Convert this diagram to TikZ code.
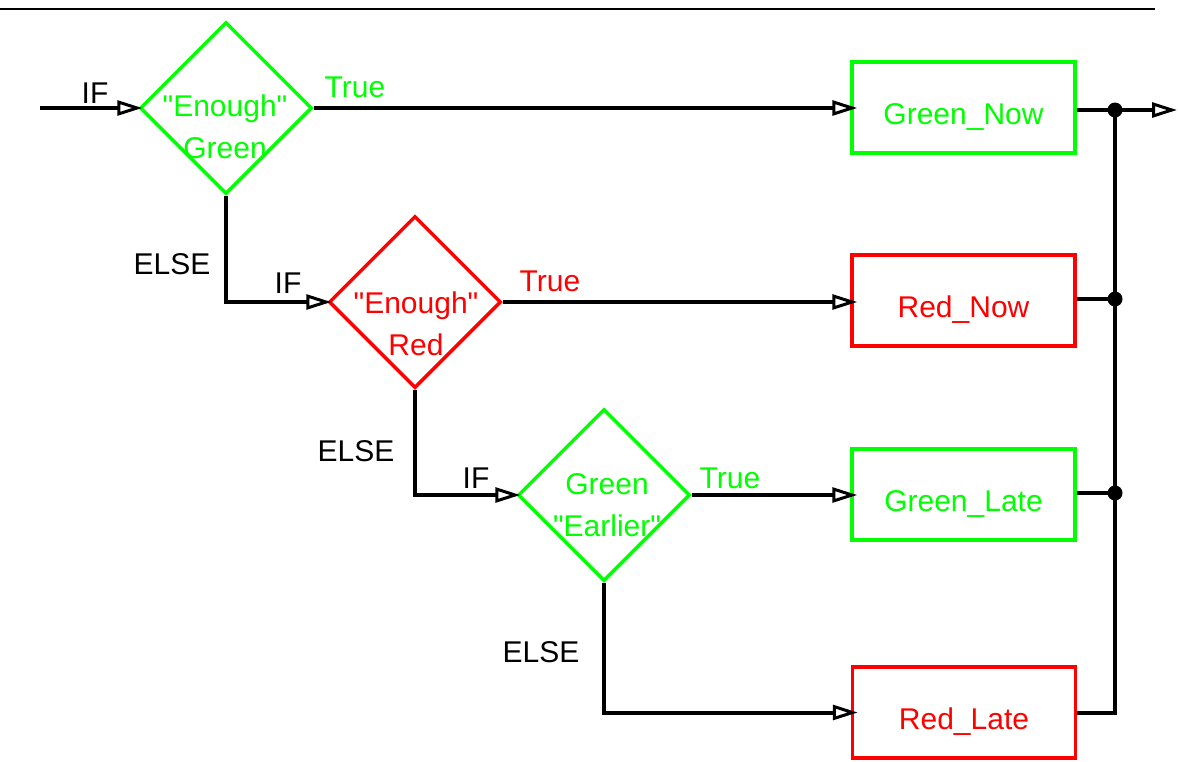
\documentclass[tikz,border=0pt]{standalone}
\usepackage{fontspec}
\setmainfont{Liberation Sans}[Ligatures=TeXOff]
\usetikzlibrary{shapes.geometric,arrows.meta}
\definecolor{grn}{RGB}{0,255,0}
\definecolor{rd}{RGB}{255,0,0}
\begin{document}
\begin{tikzpicture}[x=1pt,y=-1pt,
  txt/.style={font=\fontsize{30}{42}\selectfont},
  flow/.style={line width=4pt,shorten >=-7pt,-{Triangle[open,length=25pt,width=15pt,line width=3pt]}},
  wire/.style={line width=4pt},
  decide/.style={diamond,draw=#1,line width=3.5pt,minimum width=172pt,minimum height=172pt,inner sep=0pt},
  dtext/.style={txt,text=#1,align=center},
  action/.style={rectangle,draw=#1,text=#1,txt,line width=3.5pt,minimum width=223pt,minimum height=91pt,inner sep=0pt,text height=34pt,text depth=0pt},
  lbl/.style={txt,inner sep=0pt},
  dot/.style={circle,fill=black,inner sep=0pt,minimum size=15pt}]
\useasboundingbox (0,0) rectangle (1178,761);
% top rule
\coordinate (r0) at (0,9);
\coordinate (r1) at (1155,9);
\draw[line width=2.5pt] (r0) -- (r1);

% decisions
\node[decide=grn] (d1) at (226,108) {};
\node[decide=rd]  (d2) at (415,302) {};
\node[decide=grn] (d3) at (604,495) {};
\node[dtext=grn] (d1t) at (225,128.6) {\strut"Enough"\\\strut Green};
\node[dtext=rd]  (d2t) at (416,325.6) {\strut"Enough"\\\strut Red};
\node[dtext=grn] (d3t) at (607,507) {\strut Green\\\strut"Earlier"};

% actions
\node[action=grn] (gn) at (963.5,107.5) {Green\_Now};
\node[action=rd]  (rn) at (963.5,300.5) {Red\_Now};
\node[action=grn] (gl) at (963.5,494.5) {Green\_Late};
\node[action=rd]  (rl) at (964,712.5) {Red\_Late};

% entry
\coordinate (in) at (40,108);
\draw[flow,shorten >=-4pt] (in) -- (d1.west);

% branches
\draw[flow] (d1.east) -- (d1.east -| gn.west);
\draw[flow,shorten >=-4pt] (d1.south) |- (d2.west);
\draw[flow] (d2.east) -- (d2.east -| rn.west);
\draw[flow,shorten >=-4pt] (d2.south) |- (d3.west);
\draw[flow] (d3.east) -- (d3.east -| gl.west);
\draw[flow] (d3.south) |- (rl.west);

% merge bus
\coordinate (j1) at (1115,110);
\coordinate (j2) at (1115,299);
\coordinate (j3) at (1115,493);
\coordinate (out) at (1177,110);
\draw[flow,shorten >=0pt] (gn.east |- j1) -- (out);
\draw[wire] (rn.east |- j2) -- (j2);
\draw[wire] (gl.east |- j3) -- (j3);
\draw[wire] (rl.east) -| (j1);
\node[dot] (p1) at (j1) {};
\node[dot] (p2) at (j2) {};
\node[dot] (p3) at (j3) {};

% labels
\node[lbl] (if1) at (95,93) {IF};
\node[lbl,text=grn] (t1) at (355,87) {True};
\node[lbl] (e1) at (172,264) {ELSE};
\node[lbl] (if2) at (288,283) {IF};
\node[lbl,text=rd] (t2) at (550,281) {True};
\node[lbl] (e2) at (356,451) {ELSE};
\node[lbl] (if3) at (476,478) {IF};
\node[lbl,text=grn] (t3) at (730,478) {True};
\node[lbl] (e3) at (541,652) {ELSE};
\end{tikzpicture}
\end{document}
